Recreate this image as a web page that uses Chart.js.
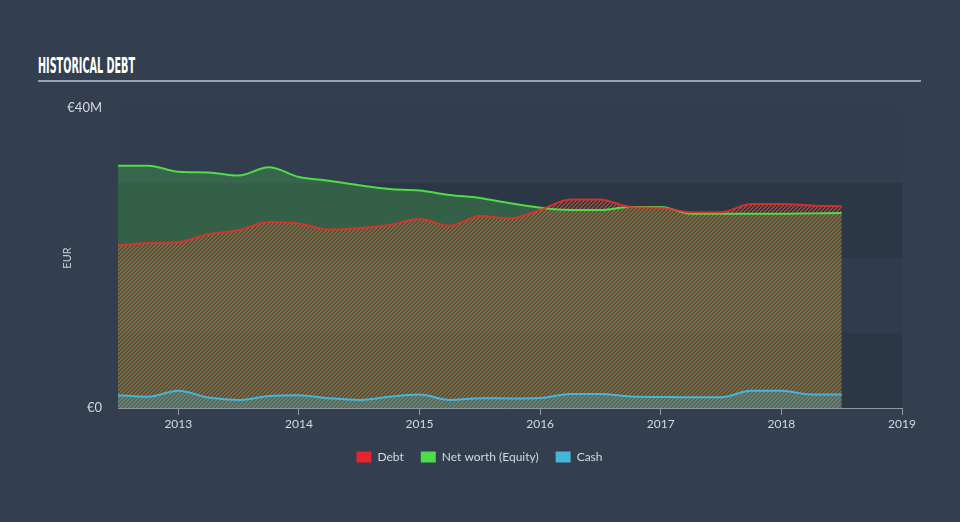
<!DOCTYPE html>
<html>
<head>
<meta charset="utf-8">
<title>Historical Debt</title>
<script src="https://cdn.jsdelivr.net/npm/chart.js@4"></script>
<style>
  html, body { margin: 0; padding: 0; background: #333f4f; }
  #wrap { position: relative; width: 960px; height: 522px; overflow: hidden; }
  #title {
    position: absolute; left: 38px; top: 56px;
    font-family: "Liberation Sans Narrow", "DejaVu Sans Condensed", sans-serif;
    font-weight: bold; font-size: 21px; color: #ffffff;
    white-space: nowrap; transform-origin: 0 0; line-height: 1;
  }
  #rule { position: absolute; left: 38px; top: 80px; width: 883px; height: 2px; background: #9aa3ad; }
  canvas { position: absolute; left: 0; top: 0; }
</style>
</head>
<body>
<div id="wrap">
  <div id="title">HISTORICAL DEBT</div>
  <div id="rule"></div>
  <canvas id="debtChart" width="960" height="522"></canvas>
</div>
<script>
// quarterly samples, values in EUR millions
const years = [2012.5, 2012.75, 2013, 2013.25, 2013.5, 2013.75, 2014, 2014.25, 2014.5, 2014.75,
               2015, 2015.25, 2015.5, 2015.75, 2016, 2016.25, 2016.5, 2016.75, 2017, 2017.25,
               2017.5, 2017.75, 2018, 2018.25, 2018.5];
const debt = [21.7, 22.0, 22.1, 23.2, 23.7, 24.8, 24.6, 23.8, 24.0, 24.4,
              25.2, 24.3, 25.6, 25.3, 26.4, 27.8, 27.8, 26.8, 26.7, 26.1,
              26.1, 27.2, 27.2, 27.0, 26.9];
const netWorth = [32.3, 32.3, 31.5, 31.4, 31.0, 32.1, 30.8, 30.3, 29.7, 29.2,
                  29.0, 28.4, 28.0, 27.3, 26.7, 26.4, 26.4, 26.8, 26.8, 25.9,
                  25.9, 25.9, 25.9, 25.95, 26.0];
const cash = [1.7, 1.5, 2.3, 1.4, 1.07, 1.6, 1.7, 1.3, 1.07, 1.5,
              1.8, 1.07, 1.3, 1.27, 1.33, 1.87, 1.87, 1.53, 1.47, 1.43,
              1.43, 2.3, 2.3, 1.8, 1.8];
const xTicks = [2013, 2014, 2015, 2016, 2017, 2018, 2019];
const yTicks = [0, 40];
const seriesNames = ['Debt', 'Net worth (Equity)', 'Cash'];
const legendColors = ['#e5252a', '#4ddc4a', '#46b5db'];

(function () {
    // squeeze title into the condensed look
    var t = document.getElementById('title');
    t.style.transform = 'scaleX(' + (97 / t.offsetWidth) + ')';
})();

// crisp diagonal hatch for the debt area
function stripes() {
    const n = 4;
    const c = document.createElement('canvas');
    c.width = n; c.height = n;
    const g = c.getContext('2d');
    g.fillStyle = 'rgba(232,90,48,0.58)';
    for (let r = 0; r < n; r++) {
        g.fillRect((n - 1 - r) % n, r, 1, 1);
        g.fillRect((n - r) % n, r, 1, 1);
    }
    return g.createPattern(c, 'repeat');
}

const pts = arr => years.map((x, i) => ({ x: x, y: arr[i] }));

// alternating horizontal bands behind the plot
const bands = {
    id: 'bands',
    beforeDraw(chart) {
        const { ctx, chartArea: a, scales: { y } } = chart;
        const cols = ['#2c3745', '#303c4b', '#2c3745', '#323e4e'];
        for (let i = 0; i < 4; i++) {
            const top = y.getPixelForValue((i + 1) * 10);
            const bot = y.getPixelForValue(i * 10);
            ctx.fillStyle = cols[i];
            ctx.fillRect(a.left, top, a.right - a.left, bot - top);
        }
    }
};

Chart.defaults.font.family = 'Lato, "Open Sans", sans-serif';

new Chart(document.getElementById('debtChart').getContext('2d'), {
    type: 'line',
    data: {
        datasets: [{
            label: seriesNames[0],
            data: pts(debt),
            borderColor: 'rgba(235,45,40,0.85)',
            backgroundColor: stripes(),
            fill: 'origin',
            order: 2
        }, {
            label: seriesNames[1],
            data: pts(netWorth),
            borderColor: '#4ddc4a',
            backgroundColor: 'rgba(75,220,80,0.25)',
            fill: 'origin',
            order: 3
        }, {
            label: seriesNames[2],
            data: pts(cash),
            borderColor: '#46b5db',
            backgroundColor: 'rgba(70,185,220,0.25)',
            fill: 'origin',
            order: 1
        }]
    },
    options: {
        responsive: false,
        animation: false,
        elements: {
            point: { radius: 0 },
            line: { borderWidth: 2, cubicInterpolationMode: 'monotone' }
        },
        layout: { padding: { left: 57, right: 58, top: 108, bottom: 49 } },
        scales: {
            x: {
                type: 'linear',
                min: 2012.5,
                max: 2019,
                afterBuildTicks: s => { s.ticks = xTicks.map(v => ({ value: v })); },
                afterFit: s => { s.height = 26; },
                ticks: {
                    maxRotation: 0,
                    autoSkip: false,
                    padding: 2,
                    color: '#d5d9de',
                    font: { size: 12 },
                    callback: v => String(v)
                },
                grid: { drawOnChartArea: false, drawTicks: true, tickLength: 7, color: '#8d97a3' },
                border: { color: '#8d97a3', width: 1 }
            },
            y: {
                min: 0,
                max: 40,
                afterBuildTicks: s => { s.ticks = yTicks.map(v => ({ value: v })); },
                afterFit: s => { s.width = 61; },
                ticks: {
                    padding: 8,
                    color: '#d5d9de',
                    font: { size: 13 },
                    callback: v => v === 0 ? '€0' : '€' + v + 'M'
                },
                grid: { display: false },
                border: { display: false },
                title: { display: true, text: 'EUR', color: '#c8ccd2', font: { size: 11 } }
            }
        },
        plugins: {
            filler: { drawTime: 'beforeDatasetsDraw' },
            tooltip: { enabled: false },
            legend: {
                position: 'bottom',
                labels: {
                    boxWidth: 15,
                    boxHeight: 11,
                    padding: 17,
                    color: '#d5d9de',
                    font: { size: 12 },
                    sort: (a, b) => a.datasetIndex - b.datasetIndex,
                    generateLabels: function (chart) {
                        const items = Chart.defaults.plugins.legend.labels.generateLabels(chart);
                        items.forEach(function (it) {
                            it.fillStyle = legendColors[it.datasetIndex];
                            it.strokeStyle = legendColors[it.datasetIndex];
                            it.lineWidth = 0;
                        });
                        return items;
                    }
                }
            }
        }
    },
    plugins: [bands]
});
</script>
</body>
</html>
